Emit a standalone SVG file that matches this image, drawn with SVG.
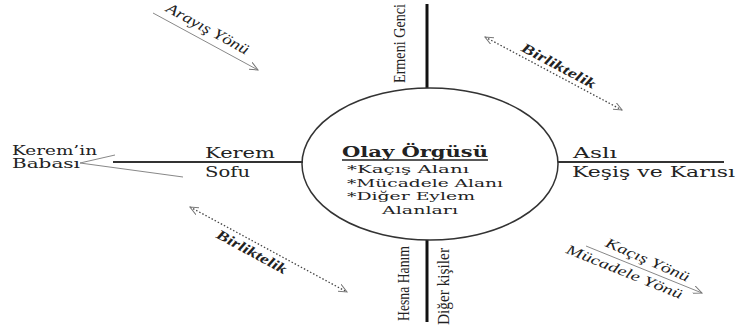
<svg xmlns="http://www.w3.org/2000/svg" width="736" height="329" viewBox="0 0 736 329">
<defs>
<marker id="open" viewBox="0 0 10 8" refX="9" refY="4" markerWidth="10" markerHeight="8" markerUnits="userSpaceOnUse" orient="auto-start-reverse">
<path d="M0,0 L9,4 L0,8" fill="none" stroke="#777" stroke-width="1"/>
</marker>
</defs>
<style>
.wide{font-family:"DejaVu Serif","Liberation Serif",serif;fill:#222}
.tnr{font-family:"Liberation Serif","Times New Roman",serif;fill:#222}
.it{font-style:italic}
.bd{font-weight:bold}
.arr{stroke:#888;stroke-width:1;fill:none}
.dot{stroke:#444;stroke-width:1.3;stroke-dasharray:1.5 2;fill:none}
.thick{stroke:#111;stroke-width:3}
.hline{stroke:#333;stroke-width:2}
</style>
<rect width="736" height="329" fill="#fff"/>
<g id="connectors">
<line class="thick" x1="427" y1="4" x2="427" y2="88"/>
<line class="thick" x1="427" y1="240" x2="427" y2="322"/>
<line class="hline" x1="113" y1="162" x2="303" y2="162"/>
<line class="hline" x1="558" y1="162" x2="724" y2="162"/>
<polyline class="arr" points="115,155 80,163 183,177"/>
<line class="arr" x1="153" y1="13" x2="258" y2="70" marker-end="url(#open)"/>
<line class="dot" x1="485" y1="37" x2="622" y2="110" marker-start="url(#open)" marker-end="url(#open)"/>
<line class="dot" x1="190" y1="207" x2="347" y2="292" marker-start="url(#open)" marker-end="url(#open)"/>
<line class="arr" x1="586" y1="246" x2="702" y2="293" marker-end="url(#open)"/>
</g>
<g id="center">
<ellipse cx="430" cy="164" rx="128" ry="76" fill="none" stroke="#333" stroke-width="1.5"/>
<text class="wide bd" x="342" y="157" font-size="15" textLength="146" lengthAdjust="spacingAndGlyphs">Olay Örgüsü</text>
<line x1="342" y1="160" x2="488" y2="160" stroke="#222" stroke-width="1.3"/>
<text class="wide" x="347" y="173" font-size="11" textLength="122" lengthAdjust="spacingAndGlyphs">*Kaçış Alanı</text>
<text class="wide" x="347" y="187" font-size="11" textLength="156" lengthAdjust="spacingAndGlyphs">*Mücadele Alanı</text>
<text class="wide" x="347" y="200" font-size="11" textLength="128" lengthAdjust="spacingAndGlyphs">*Diğer Eylem</text>
<text class="wide" x="382" y="214" font-size="11" textLength="76" lengthAdjust="spacingAndGlyphs">Alanları</text>
</g>
<g id="ermeni">
<text class="tnr" transform="translate(405,83) rotate(-90)" font-size="17" textLength="79" lengthAdjust="spacingAndGlyphs">Ermeni Genci</text>
</g>
<g id="hesna">
<text class="tnr" transform="translate(409,321) rotate(-90)" font-size="17" textLength="75" lengthAdjust="spacingAndGlyphs">Hesna Hanım</text>
</g>
<g id="diger">
<text class="tnr" transform="translate(449,325) rotate(-90)" font-size="17" textLength="77" lengthAdjust="spacingAndGlyphs">Diğer kişiler</text>
</g>
<g id="kerem">
<text class="wide" x="205" y="158" font-size="14" textLength="70" lengthAdjust="spacingAndGlyphs">Kerem</text>
<text class="wide" x="205" y="177" font-size="14" textLength="45" lengthAdjust="spacingAndGlyphs">Sofu</text>
</g>
<g id="baba">
<text class="wide" x="12" y="155" font-size="12" textLength="85" lengthAdjust="spacingAndGlyphs">Kerem’in</text>
<text class="wide" x="12" y="168" font-size="12" textLength="68" lengthAdjust="spacingAndGlyphs">Babası</text>
</g>
<g id="asli">
<text class="wide" x="573" y="158" font-size="14" textLength="44" lengthAdjust="spacingAndGlyphs">Aslı</text>
<text class="wide" x="572" y="177" font-size="14" textLength="163" lengthAdjust="spacingAndGlyphs">Keşiş ve Karısı</text>
</g>
<g id="arayis">
<text class="tnr it" transform="translate(207,30) rotate(28.5)" text-anchor="middle" dominant-baseline="middle" font-size="15" textLength="92" lengthAdjust="spacingAndGlyphs">Arayış Yönü</text>
</g>
<g id="birlik1">
<text class="tnr it bd" transform="translate(558,67) rotate(28)" text-anchor="middle" dominant-baseline="middle" font-size="14" textLength="82" lengthAdjust="spacingAndGlyphs">Birliktelik</text>
</g>
<g id="birlik2">
<text class="tnr it bd" transform="translate(251,253) rotate(28.4)" text-anchor="middle" dominant-baseline="middle" font-size="14" textLength="78" lengthAdjust="spacingAndGlyphs">Birliktelik</text>
</g>
<g id="kacis">
<text class="tnr it" transform="translate(647,261) rotate(23.5)" text-anchor="middle" dominant-baseline="middle" font-size="14" textLength="90" lengthAdjust="spacingAndGlyphs">Kaçış Yönü</text>
<text class="tnr it" transform="translate(624,273) rotate(22)" text-anchor="middle" dominant-baseline="middle" font-size="14" textLength="124" lengthAdjust="spacingAndGlyphs">Mücadele Yönü</text>
</g>
</svg>
